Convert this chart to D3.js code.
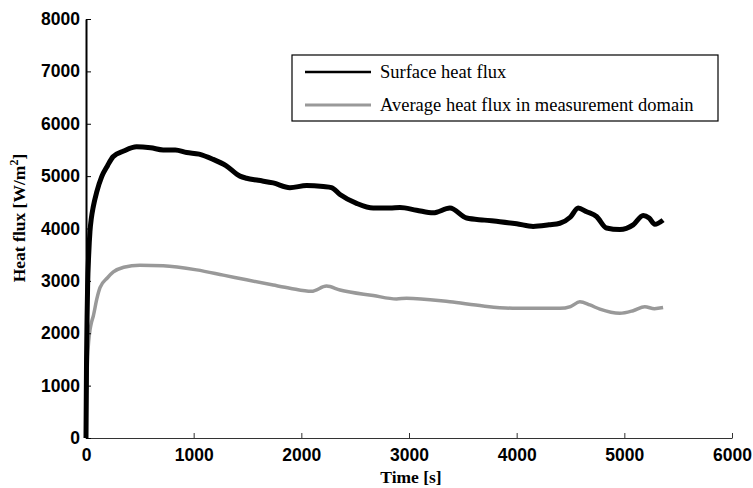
<!DOCTYPE html>
<html>
<head>
<meta charset="utf-8">
<script src="https://cdn.jsdelivr.net/npm/d3@7"></script>
<style>
  body { margin: 0; background: #fff; }
  svg { display: block; }
  .tick text { font-family: "Liberation Sans", Arial, sans-serif; font-weight: bold; font-size: 17.5px; fill: #000; }
</style>
</head>
<body>
<svg id="chart"></svg>
<script>
const width = 753;
const height = 488;

// time [s] and heat flux [W/m2]
const surfaceTime = [0, 5, 10, 15, 25, 37, 50, 68, 100, 146, 200, 251, 350, 470, 600, 717, 830, 935, 1050, 1181, 1300, 1430, 1491, 1600, 1739, 1894, 2049, 2204, 2280, 2359, 2513, 2668, 2823, 2916, 3070, 3225, 3380, 3535, 3700, 3844, 4000, 4153, 4300, 4401, 4500, 4571, 4650, 4742, 4834, 4958, 5082, 5175, 5230, 5283, 5360];
const surfaceFlux = [0, 1500, 2300, 2900, 3500, 3950, 4200, 4420, 4700, 4990, 5200, 5370, 5480, 5560, 5540, 5500, 5500, 5450, 5420, 5320, 5200, 5000, 4960, 4920, 4870, 4780, 4820, 4800, 4780, 4650, 4480, 4390, 4390, 4400, 4350, 4300, 4390, 4200, 4160, 4130, 4090, 4040, 4070, 4100, 4220, 4390, 4320, 4230, 4010, 3980, 4070, 4250, 4200, 4080, 4160];

const averageTime = [0, 5, 10, 15, 25, 37, 50, 68, 100, 130, 200, 254, 350, 500, 717, 1028, 1275, 1491, 1739, 1894, 2095, 2234, 2359, 2668, 2884, 2978, 3380, 3689, 3999, 4401, 4500, 4587, 4680, 4773, 4958, 5082, 5190, 5280, 5360];
const averageFlux = [0, 800, 1250, 1550, 1850, 2060, 2200, 2330, 2650, 2870, 3060, 3170, 3260, 3300, 3290, 3210, 3110, 3020, 2920, 2860, 2800, 2900, 2825, 2720, 2655, 2670, 2600, 2520, 2475, 2475, 2510, 2600, 2540, 2460, 2380, 2430, 2505, 2470, 2490];

const xTicks = [0, 1000, 2000, 3000, 4000, 5000, 6000];
const yTicks = [0, 1000, 2000, 3000, 4000, 5000, 6000, 7000, 8000];

const seriesNames = ['Surface heat flux', 'Average heat flux in measurement domain'];
const seriesColors = ['#000000', '#999999'];

const margin = { top: 19, right: 21, bottom: 50, left: 86 };

const svg = d3.select('#chart')
    .attr('width', width)
    .attr('height', height);

const x = d3.scaleLinear().domain([0, 6000]).range([margin.left, width - margin.right]);
const y = d3.scaleLinear().domain([0, 8000]).range([height - margin.bottom, margin.top]);

const line = d3.line()
    .x(d => x(d[0]))
    .y(d => y(d[1]))
    .curve(d3.curveMonotoneX);

const surface = surfaceTime.map((t, i) => [t, surfaceFlux[i]]);
const average = averageTime.map((t, i) => [t, averageFlux[i]]);

svg.append('path')
    .datum(average)
    .attr('d', line)
    .attr('fill', 'none')
    .attr('stroke', seriesColors[1])
    .attr('stroke-width', 3.5);

svg.append('path')
    .datum(surface)
    .attr('d', line)
    .attr('fill', 'none')
    .attr('stroke', seriesColors[0])
    .attr('stroke-width', 5);

// axes, ticks point inward
const xAxis = svg.append('g')
    .attr('transform', `translate(0,${y(0)})`)
    .call(d3.axisBottom(x).tickValues(xTicks).tickFormat(d3.format('d')).tickSizeInner(-5).tickSizeOuter(0).tickPadding(11));
xAxis.select('.domain').attr('stroke', '#333').attr('stroke-width', 1.2);
xAxis.selectAll('.tick line').attr('stroke', '#333');

const yAxis = svg.append('g')
    .attr('transform', `translate(${x(0)},0)`)
    .call(d3.axisLeft(y).tickValues(yTicks).tickFormat(d3.format('d')).tickSizeInner(-5).tickSizeOuter(0).tickPadding(6));
yAxis.select('.domain').attr('stroke', '#000').attr('stroke-width', 2);
yAxis.selectAll('.tick line').attr('stroke', '#000');

// axis titles
svg.append('text')
    .attr('x', x(3000) + 2)
    .attr('y', 483)
    .attr('text-anchor', 'middle')
    .style('font-family', '"Liberation Serif", "Times New Roman", serif')
    .style('font-weight', 'bold')
    .style('font-size', '17.5px')
    .text('Time [s]');

const yTitle = svg.append('text')
    .attr('transform', `translate(25,${y(4200)}) rotate(-90)`)
    .attr('text-anchor', 'middle')
    .style('font-family', '"Liberation Serif", "Times New Roman", serif')
    .style('font-weight', 'bold')
    .style('font-size', '17.5px');
yTitle.append('tspan').text('Heat flux [W/m');
yTitle.append('tspan').attr('dy', -7).style('font-size', '12px').text('2');
yTitle.append('tspan').attr('dy', 7).text(']');

// legend
const legend = svg.append('g').attr('transform', 'translate(292,55)');
legend.append('rect')
    .attr('width', 426)
    .attr('height', 66)
    .attr('fill', '#fff')
    .attr('stroke', '#000')
    .attr('stroke-width', 1.2);

seriesNames.forEach((name, i) => {
    const row = legend.append('g').attr('transform', `translate(0,${17 + i * 33})`);
    row.append('line')
        .attr('x1', 13).attr('x2', 79)
        .attr('stroke', seriesColors[i])
        .attr('stroke-width', i === 0 ? 2.5 : 3);
    row.append('text')
        .attr('x', 88)
        .attr('y', 6)
        .style('font-family', '"Liberation Serif", "Times New Roman", serif')
        .style('font-size', '18.5px')
        .text(name);
});
</script>
</body>
</html>
